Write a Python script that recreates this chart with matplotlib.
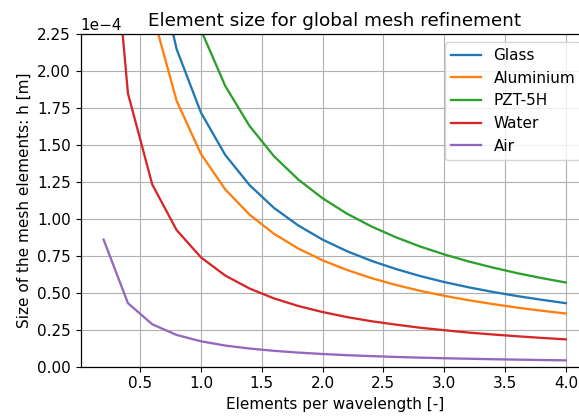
import matplotlib
matplotlib.use("Agg")
import matplotlib.pyplot as plt
import numpy as np

elements_per_wavelength = [0.2, 0.4, 0.6, 0.8, 1.0, 1.2, 1.4, 1.6, 1.8, 2.0,
                           2.2, 2.4, 2.6, 2.8, 3.0, 3.2, 3.4, 3.6, 3.8, 4.0]

glass = [8.6, 4.3, 2.867, 2.15, 1.72, 1.433, 1.229, 1.075, 0.956, 0.86,
         0.782, 0.717, 0.662, 0.614, 0.573, 0.5375, 0.506, 0.478, 0.453, 0.43]
aluminium = [7.2, 3.6, 2.4, 1.8, 1.44, 1.2, 1.029, 0.9, 0.8, 0.72,
             0.655, 0.6, 0.554, 0.514, 0.48, 0.45, 0.424, 0.4, 0.379, 0.36]
pzt = [11.4, 5.7, 3.8, 2.85, 2.28, 1.9, 1.629, 1.425, 1.267, 1.14,
       1.036, 0.95, 0.877, 0.814, 0.76, 0.7125, 0.671, 0.633, 0.6, 0.57]
water = [3.7, 1.85, 1.233, 0.925, 0.74, 0.617, 0.529, 0.4625, 0.411, 0.37,
         0.336, 0.308, 0.285, 0.264, 0.247, 0.231, 0.218, 0.206, 0.195, 0.185]
air = [0.86, 0.43, 0.287, 0.215, 0.172, 0.143, 0.123, 0.1075, 0.0956, 0.086,
       0.078, 0.0717, 0.066, 0.0614, 0.0573, 0.0538, 0.0506, 0.0478, 0.0453, 0.043]

series = [("Glass", glass), ("Aluminium", aluminium), ("PZT-5H", pzt),
          ("Water", water), ("Air", air)]
scale = 1e-4

plt.rcParams["font.size"] = 11
plt.rcParams["lines.linewidth"] = 1.65
plt.rcParams["axes.linewidth"] = 0.9

fig = plt.figure(figsize=(5.79, 4.18), dpi=100)
ax = fig.add_axes([80.5 / 579, 1 - 366.7 / 418, (589 - 80.5) / 579, (366.7 - 34.3) / 418])

for name, vals in series:
    ax.plot(elements_per_wavelength, np.array(vals) * scale, label=name)

ax.set_ylim(0, 2.25e-4)
ax.set_xlim(0.01, 4.19)
ax.set_yticks(np.arange(0, 2.26e-4, 0.25e-4))
ax.ticklabel_format(axis="y", style="sci", scilimits=(0, 0))
ax.grid(True)
ax.set_title("Element size for global mesh refinement")
ax.set_xlabel("Elements per wavelength [-]")
ax.set_ylabel("Size of the mesh elements: h [m]")
ax.legend(loc="upper right")

fig.savefig("out.png", dpi=100)
